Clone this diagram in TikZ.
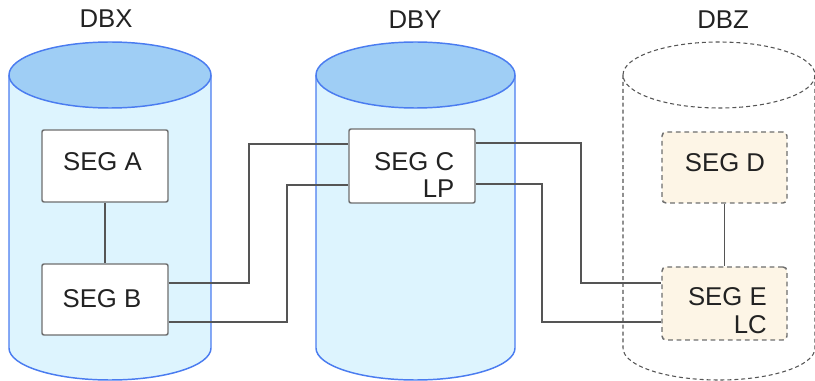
\documentclass[tikz,border=0pt]{standalone}
\usepackage{fontspec}
\setmainfont{Liberation Sans}
\definecolor{cylbody}{HTML}{DDF4FE}
\definecolor{cyltop}{HTML}{9FCEF5}
\definecolor{cylline}{HTML}{4A7CF0}
\definecolor{conncol}{HTML}{555555}
\definecolor{boxline}{HTML}{6E6E6E}
\definecolor{dashfill}{HTML}{FDF5E6}
\definecolor{txtcol}{HTML}{222222}
\pgfdeclarelayer{cylbg}
\pgfdeclarelayer{connmid}
\pgfsetlayers{cylbg,connmid,main}
\begin{document}
\begin{tikzpicture}[x=0.75pt,y=-0.75pt,
  lbl/.style={inner sep=0pt,text=txtcol,font=\fontsize{19.3}{20.6}\selectfont},
  segbox/.style={draw=boxline,fill=white,line width=1.1pt,rounded corners=1.5pt,
     minimum width=94.5pt,inner sep=0pt},
  segdash/.style={draw=boxline,fill=dashfill,line width=1.1pt,rounded corners=3pt,
     dash pattern=on 3.6pt off 2.8pt,minimum width=93.75pt,inner sep=0pt},
  conn/.style={draw=conncol,line width=1.3pt},
  cylside/.style={draw=cylline,line width=1.1pt},
  cyldash/.style={draw=conncol,line width=0.8pt,dash pattern=on 3pt off 2.2pt}]
\useasboundingbox (0,0) rectangle (815,381);

\begin{pgfonlayer}{cylbg}
% cylinder DBX
\fill[cylbody] (9,75) -- (9,348) arc[start angle=180,end angle=0,x radius=101,y radius=32] -- (211,75) -- cycle;
\draw[cylside] (9,75) -- (9,348) arc[start angle=180,end angle=0,x radius=101,y radius=32] -- (211,75);
\draw[cylside,fill=cyltop] (110,75) ellipse[x radius=101,y radius=33];
% cylinder DBY
\fill[cylbody] (316,75) -- (316,348) arc[start angle=180,end angle=0,x radius=99.5,y radius=32] -- (515,75) -- cycle;
\draw[cylside] (316,75) -- (316,348) arc[start angle=180,end angle=0,x radius=99.5,y radius=32] -- (515,75);
\draw[cylside,fill=cyltop] (415.5,75) ellipse[x radius=99.5,y radius=33];
% cylinder DBZ (dashed)
\draw[cyldash] (623,75) -- (623,348) arc[start angle=180,end angle=0,x radius=96,y radius=32] -- (815,75);
\draw[cyldash] (719,75) ellipse[x radius=96,y radius=33];
\end{pgfonlayer}

% titles
\node[lbl] (tx) at (106,19) {DBX};
\node[lbl] (ty) at (415,20) {DBY};
\node[lbl] (tz) at (723,20) {DBZ};

% boxes
\node[segbox,minimum height=54pt] (A) at (105,166) {};
\node[segbox,minimum height=53.25pt] (B) at (105,299.5) {};
\node[segbox,minimum height=55.5pt] (C) at (412,166) {};
\node[segdash,minimum height=53.25pt] (D) at (724.5,167.5) {};
\node[segdash,minimum height=54.75pt] (E) at (724.5,303.5) {};

% connectors (between cylinders and boxes)
\begin{pgfonlayer}{connmid}
\draw[conn] (A.south) -- (B.north);
\draw[conn] (D.south) -- (E.north);
\draw[conn] (B.east |- 0,283) -| (249,144) -- (C.west |- 0,144);
\draw[conn] (B.east |- 0,322) -| (287,185) -- (C.west |- 0,185);
\draw[conn] (C.east |- 0,143) -| (581,283) -- (E.west |- 0,283);
\draw[conn] (C.east |- 0,184) -| (542,322) -- (E.west |- 0,322);
\end{pgfonlayer}

% texts
\node[lbl] (At) at (102.5,162) {SEG A};
\node[lbl] (Bt) at (102,299) {SEG B};
\node[lbl,align=right,anchor=east] (Ct) at (454.5,175) {SEG C\\LP};
\node[lbl] (Dt) at (725,162.5) {SEG D};
\node[lbl,align=right,anchor=east] (Et) at (767,310.5) {SEG E\\LC};
\end{tikzpicture}
\end{document}
